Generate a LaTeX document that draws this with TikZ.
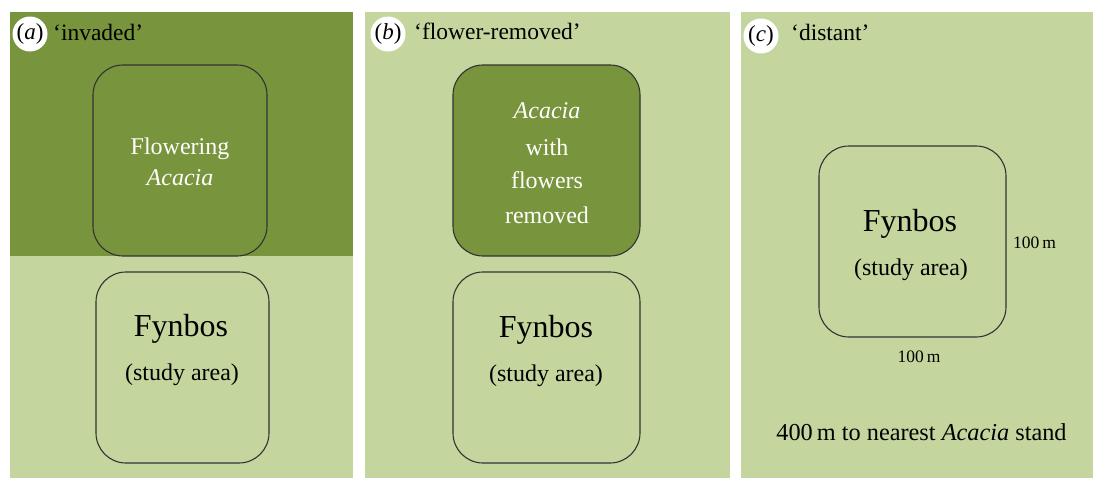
\documentclass[tikz,border=0pt]{standalone}
\usepackage{fontspec}
\setmainfont{Liberation Serif}
\definecolor{acaciagreen}{RGB}{120,148,60}
\definecolor{fynbosgreen}{RGB}{196,214,158}

\begin{document}
\begin{tikzpicture}[x=1pt, y=-1pt,
        plotbox/.style={draw=black!80, line width=1.1pt, rounded corners=30pt, inner sep=0pt},
        tagcircle/.style={circle, fill=white, minimum size=35pt, inner sep=0pt, font=\fontsize{23}{23}\selectfont},
        title/.style={anchor=base west, inner sep=0pt, font=\fontsize{23.5}{23.5}\selectfont},
        bigtext/.style={anchor=base, inner sep=0pt, font=\fontsize{32}{32}\selectfont},
        midtext/.style={anchor=base, inner sep=0pt, font=\fontsize{24}{24}\selectfont},
        smalltext/.style={anchor=base, inner sep=0pt, font=\fontsize{17.5}{17.5}\selectfont}]
        \useasboundingbox (0,0) rectangle (1093,479);
        % panels
        \fill[fynbosgreen] (10,12) rectangle (353,478);
        \fill[acaciagreen] (10,12) rectangle (353,256);
        \fill[fynbosgreen] (365,12) rectangle (730,478);
        \fill[fynbosgreen] (741,12) rectangle (1093,478);
        % (a) invaded
        \node[tagcircle] (tagA) at (30,34) {(\textit{a})};
        \node[title] (titleA) at (53,40) {‘invaded’};
        \node[plotbox, fill=acaciagreen, minimum width=174pt, minimum height=191pt] (acaciaA) at (180,160.5) {};
        \node[midtext, text=white] (flowA) at (180,154) {Flowering};
        \node[midtext, text=white] (nameA) at (180,185) {\textit{Acacia}};
        \node[plotbox, minimum width=173pt, minimum height=191pt] (fynbosA) at (182.5,367.5) {};
        \node[bigtext] (fynA) at (181,336) {Fynbos};
        \node[midtext] (studyA) at (182,380) {(study area)};
        % (b) flower-removed
        \node[tagcircle] (tagB) at (388,34) {(\textit{b})};
        \node[title] (titleB) at (414,39) {‘flower-removed’};
        \node[plotbox, fill=acaciagreen, minimum width=187pt, minimum height=191pt] (acaciaB) at (546.5,160.5) {};
        \node[midtext, text=white] (nameB) at (547,118) {\textit{Acacia}};
        \node[midtext, text=white] (withB) at (547,155) {with};
        \node[midtext, text=white] (flowB) at (547,188) {flowers};
        \node[midtext, text=white] (remB) at (547,223) {removed};
        \node[plotbox, minimum width=187pt, minimum height=191pt] (fynbosB) at (546.5,367.5) {};
        \node[bigtext] (fynB) at (546,337) {Fynbos};
        \node[midtext] (studyB) at (546,381) {(study area)};
        % (c) distant
        \node[tagcircle] (tagC) at (761,36) {(\textit{c})};
        \node[title] (titleC) at (791,40) {‘distant’};
        \node[plotbox, minimum width=187pt, minimum height=191pt] (fynbosC) at (912.5,241.5) {};
        \node[bigtext] (fynC) at (910,231) {Fynbos};
        \node[midtext] (studyC) at (911,275) {(study area)};
        \node[smalltext, anchor=base west] (sideC) at (1013,248) {100\,m};
        \node[smalltext] (baseC) at (919,362) {100\,m};
        \node[midtext, font=\fontsize{24.3}{24.3}\selectfont] (distC) at (921.5,440) {400\,m to nearest \textit{Acacia} stand};
\end{tikzpicture}
\end{document}
